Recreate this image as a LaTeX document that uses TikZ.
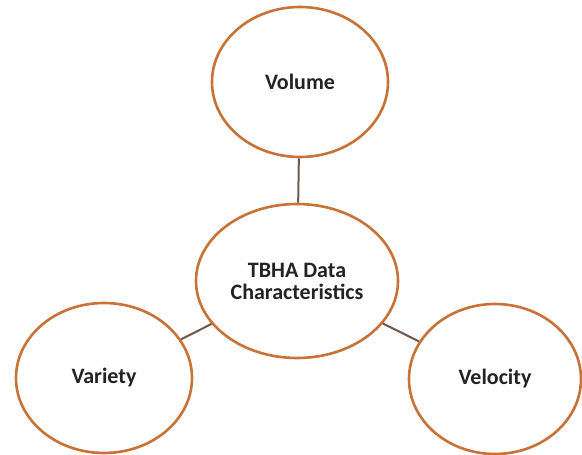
\documentclass[tikz,border=0pt]{standalone}
\usepackage{fontspec}
\setmainfont{Carlito}
\usetikzlibrary{shapes.geometric}
\definecolor{bubcol}{RGB}{200,114,56}
\definecolor{lncol}{RGB}{110,88,76}
\definecolor{txtcol}{RGB}{35,35,35}
\begin{document}
\begin{tikzpicture}[x=1pt,y=-1pt,
  bub/.style={ellipse, draw=bubcol, line width=2.6pt, fill=white, inner sep=0pt,
    font=\bfseries\fontsize{22}{22}\selectfont, text=txtcol, align=center},
  conn/.style={draw=lncol, line width=2pt}]
\useasboundingbox[fill=white] (0,0) rectangle (582,455);
\node[bub, minimum width=176pt, minimum height=150pt] (vol) at (300,82) {Volume};
\node[bub, minimum width=202pt, minimum height=154pt] (ctr) at (297,281) {TBHA Data\\Characteristics};
\node[bub, minimum width=176pt, minimum height=150pt] (var) at (104,378) {Variety};
\node[bub, minimum width=172pt, minimum height=150pt] (vel) at (495,379) {Velocity};
\draw[conn] (vol) -- (ctr);
\draw[conn] (ctr) -- (var);
\draw[conn] (ctr) -- (vel);
\end{tikzpicture}
\end{document}
